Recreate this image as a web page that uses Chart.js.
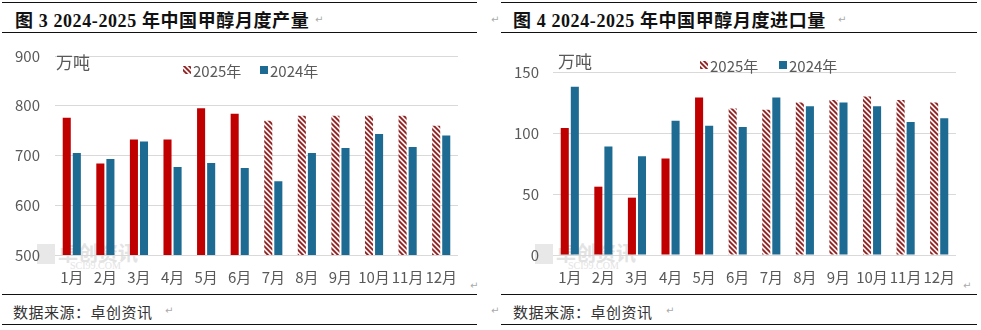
<!DOCTYPE html>
<html><head><meta charset="utf-8">
<script src="https://cdn.jsdelivr.net/npm/chart.js@4.4.1/dist/chart.umd.min.js"></script>
<style>
html,body{margin:0;padding:0;background:#fff;}
body{width:981px;height:330px;overflow:hidden;position:relative;font-family:"Noto Sans CJK SC",sans-serif;}
.hl{position:absolute;height:0;border-top:1.6px solid #111;}
.title{position:absolute;top:6px;font:bold 18px "Liberation Serif","Noto Sans CJK SC",serif;color:#111;white-space:nowrap;letter-spacing:0.6px;}
.src{position:absolute;top:301px;font:15px "Noto Sans CJK SC",sans-serif;color:#333;white-space:nowrap;letter-spacing:0.5px;}
canvas{position:absolute;top:32px;}
.wm{position:absolute;color:#e3e3e3;white-space:nowrap;}
.pm{position:absolute;color:#aaa;font:10px "DejaVu Sans",sans-serif;}
</style>
</head><body>
<div class="hl" style="left:2px;width:475px;top:2px"></div>
<div class="title" style="left:15px">图 3 2024-2025 年中国甲醇月度产量</div>
<div class="hl" style="left:2px;width:475px;top:32px"></div>
<div class="hl" style="left:2px;width:475px;top:294px"></div>
<div class="src" style="left:13px">数据来源：卓创资讯</div>
<div class="hl" style="left:2px;width:475px;top:324px"></div>

<div class="hl" style="left:501px;width:476px;top:2px"></div>
<div class="title" style="left:513px">图 4 2024-2025 年中国甲醇月度进口量</div>
<div class="hl" style="left:501px;width:476px;top:32px"></div>
<div class="hl" style="left:501px;width:476px;top:294px"></div>
<div class="src" style="left:513px">数据来源：卓创资讯</div>
<div class="hl" style="left:501px;width:476px;top:324px"></div>

<div class="wm" style="left:37px;top:244px;width:18px;height:20px;background:#e8e8e8"></div>
<div class="wm" style="left:58px;top:238px;font:bold 20px 'Noto Sans CJK SC'">卓创资讯</div>
<div class="wm" style="left:70px;top:260px;font:10px 'Liberation Serif'">SCI99.COM</div>
<div class="wm" style="left:535px;top:244px;width:18px;height:20px;background:#e8e8e8"></div>
<div class="wm" style="left:556px;top:238px;font:bold 20px 'Noto Sans CJK SC'">卓创资讯</div>
<div class="wm" style="left:568px;top:260px;font:10px 'Liberation Serif'">SCI99.COM</div>

<div class="pm" style="left:315px;top:14px">↵</div>
<div class="pm" style="left:470px;top:280px">↵</div>
<div class="pm" style="left:165px;top:305px">↵</div>
<div class="pm" style="left:838px;top:14px">↵</div>
<div class="pm" style="left:963px;top:280px">↵</div>
<div class="pm" style="left:666px;top:305px">↵</div>
<div class="pm" style="left:491px;top:14px">↵</div>
<div class="pm" style="left:491px;top:305px">↵</div>

<canvas id="c1" width="490" height="262" style="left:0px"></canvas>
<canvas id="c2" width="491" height="262" style="left:490px"></canvas>

<script>
// ---- data ----
const months = ['1月','2月','3月','4月','5月','6月','7月','8月','9月','10月','11月','12月'];
const seriesNames = ['2025年','2024年'];
const unitLabel = '万吨';

const prod2025 = [776, 684, 732, 732, 795, 784, 770, 780, 780, 780, 780, 760];
const prod2024 = [705, 693, 728, 677, 685, 675, 648, 705, 715, 743, 717, 740];
const prodActualMonths = 6;   // months of 2025 that are actual (rest are forecast, hatched)
const prodTicks = [500, 600, 700, 800, 900];

const imp2025 = [104, 56, 47, 79, 129, 120, 119, 125, 127, 130, 127, 125];
const imp2024 = [138, 89, 81, 110, 106, 105, 129, 122, 125, 122, 109, 112];
const impActualMonths = 5;
const impTicks = [0, 50, 100, 150];

// ---- styles ----
const RED = '#C00000';
const BLUE = '#1D6B92';
const TXT = '#595959';
const GRID = '#d9d9d9';
const FONT = '"Noto Sans CJK SC", sans-serif';

function makeHatch(ctx){
  const s = 5;
  const c = document.createElement('canvas'); c.width = s; c.height = s;
  const g = c.getContext('2d');
  g.fillStyle = '#FCEDED'; g.fillRect(0,0,s,s);
  g.strokeStyle = '#8A1C1C'; g.lineWidth = 1.7;
  g.beginPath();
  g.moveTo(-1,-1); g.lineTo(s+1,s+1);
  g.moveTo(-1,s-1); g.lineTo(1,s+1);
  g.moveTo(s-1,-1); g.lineTo(s+1,1);
  g.stroke();
  return ctx.createPattern(c,'repeat');
}

const overlay = {
  id: 'overlay',
  afterDraw(chart, args, o){
    const ctx = chart.ctx;
    ctx.save();
    ctx.textBaseline = 'middle';
    ctx.textAlign = 'left';
    ctx.fillStyle = TXT;
    ctx.font = '17px ' + FONT;
    ctx.fillText(unitLabel, o.unitX, o.unitY);
    ctx.font = '15px ' + FONT;
    let x = o.legX;
    chart.data.datasets.forEach((ds, i) => {
      ctx.fillStyle = ds.legendFill;
      ctx.fillRect(x, o.legY - 4, 8, 8);
      ctx.fillStyle = TXT;
      ctx.fillText(ds.label, x + 10, o.legY + 1);
      x += o.legStep;
    });
    ctx.restore();
  }
};

function build(id, v25, v24, nActual, ticks, cfg){
  const canvas = document.getElementById(id);
  const ctx = canvas.getContext('2d');
  const hatch = makeHatch(ctx);
  const colors25 = v25.map((v, i) => i < nActual ? RED : hatch);
  return new Chart(ctx, {
    type: 'bar',
    data: {
      labels: months,
      datasets: [
        {label: seriesNames[0], data: v25, backgroundColor: colors25, legendFill: hatch,
         categoryPercentage: 0.6, barPercentage: 0.8},
        {label: seriesNames[1], data: v24, backgroundColor: BLUE, legendFill: BLUE,
         categoryPercentage: 0.6, barPercentage: 0.8}
      ]
    },
    options: {
      responsive: false,
      animation: false,
      devicePixelRatio: 1,
      layout: {padding: {top: cfg.top, right: cfg.right, left: 0, bottom: 0}},
      plugins: {legend: {display: false}, tooltip: {enabled: false}, overlay: cfg.overlay},
      scales: {
        x: {
          grid: {display: false}, border: {display: false},
          ticks: {color: TXT, font: {size: 15, family: FONT}, padding: 5, maxRotation: 0, autoSkip: false},
          afterFit: s => { s.height = 39; }
        },
        y: {
          min: ticks[0], max: ticks[ticks.length-1],
          afterBuildTicks: s => { s.ticks = ticks.map(v => ({value: v})); },
          grid: {color: GRID, lineWidth: 1, drawTicks: false},
          border: {display: false},
          ticks: {color: TXT, font: {size: 15, family: FONT}, padding: cfg.tickPad},
          afterFit: s => { s.width = cfg.left; }
        }
      }
    },
    plugins: [overlay]
  });
}

build('c1', prod2025, prod2024, prodActualMonths, prodTicks, {
  top: 24, right: 32, left: 55, tickPad: 15,
  overlay: {unitX: 56, unitY: 31, legX: 183, legY: 38, legStep: 77}
});
build('c2', imp2025, imp2024, impActualMonths, impTicks, {
  top: 40, right: 25, left: 63, tickPad: 14,
  overlay: {unitX: 68, unitY: 30, legX: 210, legY: 33, legStep: 79}
});
</script>
</body></html>
